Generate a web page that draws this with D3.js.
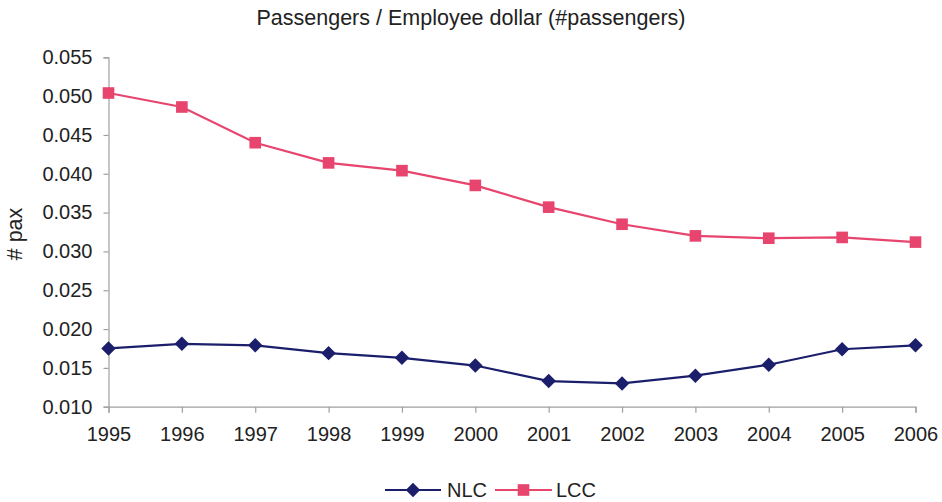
<!DOCTYPE html>
<html><head><meta charset="utf-8">
<script src="https://cdn.jsdelivr.net/npm/d3@7"></script>
<style>body{margin:0;background:#fff}svg{display:block;font-family:"Liberation Sans",Arial,sans-serif}</style>
</head><body>
<script>
const years = [1995,1996,1997,1998,1999,2000,2001,2002,2003,2004,2005,2006];
const nlc = [0.0175,0.0181,0.0179,0.0169,0.0163,0.0153,0.0133,0.0130,0.0140,0.0154,0.0174,0.0179];
const lcc = [0.0504,0.0486,0.0440,0.0414,0.0404,0.0385,0.0357,0.0335,0.0320,0.0317,0.0318,0.0312];
const yTicks = [0.010,0.015,0.020,0.025,0.030,0.035,0.040,0.045,0.050,0.055];
const seriesNames = ["NLC","LCC"];
const colors = {NLC:"#1b1f6b", LCC:"#e8456e"};

const W=942,H=502;
const svg=d3.select("body").append("svg").attr("width",W).attr("height",H);
const x=d3.scalePoint().domain(years).range([108.5,915.5]);
const y=d3.scaleLinear().domain([0.010,0.055]).range([406.7,57.3]);

svg.append("text").attr("x",471).attr("y",25).attr("text-anchor","middle")
  .attr("font-size",21.5).attr("fill","#222").text("Passengers / Employee dollar (#passengers)");

const ya=svg.append("g").attr("transform","translate(108.5,0)")
  .call(d3.axisLeft(y).tickValues(yTicks).tickFormat(d3.format(".3f")).tickSizeOuter(0).tickSize(5).tickPadding(11));
const xa=svg.append("g").attr("transform","translate(0,406.7)")
  .call(d3.axisBottom(x).tickValues(years).tickFormat(d=>String(d)).tickSizeOuter(0).tickSize(6).tickPadding(14));
[ya,xa].forEach(g=>{
  g.selectAll("path,line").attr("stroke","#a0a0a0").attr("stroke-width",1.2);
  g.selectAll("text").attr("font-size",20).attr("fill","#222").attr("font-family","'Liberation Sans',Arial,sans-serif");
});

svg.append("text").attr("transform","translate(22,234) rotate(-90)").attr("text-anchor","middle")
  .attr("font-size",21.5).attr("fill","#222").text("# pax");

const line=d3.line().x((d,i)=>x(years[i])).y(d=>y(d));
const data={NLC:nlc,LCC:lcc};
const sq=d3.symbol().type(d3.symbolSquare);
const markerD=n=>n==="NLC"?sq.size(105)():sq.size(135)();
const markerRot=n=>n==="NLC"?" rotate(45)":"";
seriesNames.forEach(n=>{
  svg.append("path").datum(data[n]).attr("d",line).attr("fill","none")
    .attr("stroke",colors[n]).attr("stroke-width",2.2);
  svg.selectAll(null).data(data[n]).join("path")
    .attr("transform",(d,i)=>`translate(${x(years[i])},${y(d)})${markerRot(n)}`)
    .attr("d",markerD(n)).attr("fill",colors[n]);
});

// legend
const leg=[{n:"NLC",x0:385,x1:441,tx:447},{n:"LCC",x0:495,x1:552,tx:556}];
leg.forEach(l=>{
  const g=svg.append("g");
  g.append("line").attr("x1",l.x0).attr("x2",l.x1).attr("y1",490).attr("y2",490)
    .attr("stroke",colors[l.n]).attr("stroke-width",2.2);
  g.append("path").attr("transform",`translate(${(l.x0+l.x1)/2},490)${markerRot(l.n)}`)
    .attr("d",markerD(l.n)).attr("fill",colors[l.n]);
  g.append("text").attr("x",l.tx).attr("y",497).attr("font-size",20).attr("fill","#222").text(l.n);
});
</script>
</body></html>
